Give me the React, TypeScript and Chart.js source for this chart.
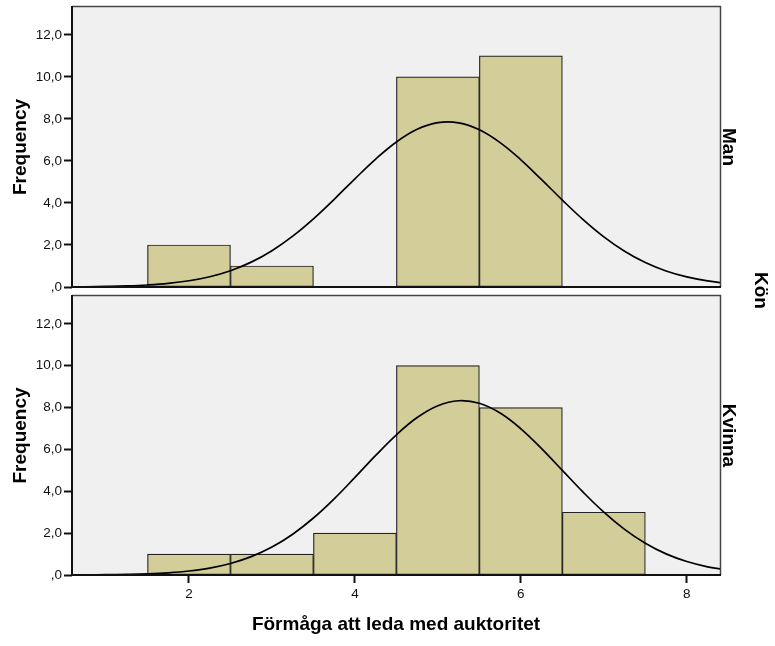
import React, { useEffect, useRef } from 'react';
import { Chart, registerables } from 'chart.js';

Chart.register(...registerables);

// ---- data ----
const BIN_CENTERS = [2, 3, 4, 5, 6, 7];
const MAN_FREQ = [2, 1, 0, 10, 11, 0];
const KVINNA_FREQ = [1, 1, 2, 10, 8, 3];

const CURVE_X = [0.5, 0.75, 1, 1.25, 1.5, 1.75, 2, 2.25, 2.5, 2.75, 3, 3.25, 3.5, 3.75, 4, 4.25, 4.5, 4.75, 5, 5.25, 5.5, 5.75, 6, 6.25, 6.5, 6.75, 7, 7.25, 7.5, 7.75, 8, 8.25, 8.5];
const MAN_CURVE = [0.01, 0.013, 0.026, 0.05, 0.095, 0.171, 0.296, 0.49, 0.777, 1.184, 1.728, 2.419, 3.245, 4.175, 5.15, 6.09, 6.905, 7.506, 7.822, 7.815, 7.487, 6.876, 6.055, 5.111, 4.137, 3.21, 2.389, 1.703, 1.165, 0.764, 0.48, 0.289, 0.167];
const KVINNA_CURVE = [0.003, 0.006, 0.014, 0.028, 0.055, 0.105, 0.191, 0.331, 0.551, 0.877, 1.336, 1.95, 2.724, 3.641, 4.661, 5.712, 6.7, 7.524, 8.089, 8.325, 8.203, 7.737, 6.986, 6.039, 4.998, 3.959, 3.003, 2.181, 1.515, 1.008, 0.642, 0.392, 0.229];

const Y_TICKS = [0, 2, 4, 6, 8, 10, 12];
const Y_TICK_LABELS = [',0', '2,0', '4,0', '6,0', '8,0', '10,0', '12,0'];
const X_TICKS = [2, 4, 6, 8];
const X_TICK_LABELS = ['2', '4', '6', '8'];
const Y_MAX = 13.33;
const X_MIN = 0.59;
const X_MAX = 8.4;

const GROUP_LABELS = ['Man', 'Kvinna'];
const GROUP_TITLE = 'Kön';
const Y_TITLE = 'Frequency';
const X_TITLE = 'Förmåga att leda med auktoritet';

// ---- styles ----
const FAMILY = '"Liberation Sans", Arial, Helvetica, sans-serif';
const BAR_FILL = '#d3ce99';
const BAR_EDGE = '#222222';
const PANEL_BG = '#f0f0f0';

const framePlugin = {
  id: 'panelFrame',
  beforeDraw(chart: any) {
    const { ctx, chartArea: a } = chart;
    ctx.save();
    ctx.fillStyle = PANEL_BG;
    ctx.fillRect(a.left, a.top, a.right - a.left, a.bottom - a.top);
    ctx.restore();
  },
  afterDatasetsDraw(chart: any) {
    const { ctx, chartArea: a } = chart;
    ctx.save();
    ctx.strokeStyle = '#444444';
    ctx.lineWidth = 1.5;
    ctx.beginPath();
    ctx.moveTo(a.left, a.top - 0.5);
    ctx.lineTo(a.right + 1, a.top - 0.5);
    ctx.moveTo(a.right + 0.5, a.top - 1);
    ctx.lineTo(a.right + 0.5, a.bottom);
    ctx.stroke();
    ctx.strokeStyle = '#111111';
    ctx.lineWidth = 2;
    ctx.beginPath();
    ctx.moveTo(a.left, a.top - 1);
    ctx.lineTo(a.left, a.bottom + 1);
    ctx.moveTo(a.left - 1, a.bottom);
    ctx.lineTo(a.right + 1, a.bottom);
    ctx.stroke();
    ctx.restore();
  },
  afterDraw(chart: any, _args: any, opts: any) {
    const { ctx, chartArea: a } = chart;
    const labels = (opts && opts.labels) || [];
    ctx.save();
    ctx.fillStyle = '#000';
    ctx.font = `bold 19px ${FAMILY}`;
    ctx.textAlign = 'center';
    ctx.textBaseline = 'alphabetic';
    for (const l of labels) {
      const x = a.right + l.dx;
      const y = l.where === 'below' ? a.bottom + l.dy : (a.top + a.bottom) / 2;
      ctx.save();
      ctx.translate(x, y);
      ctx.rotate(Math.PI / 2);
      ctx.fillText(l.text, 0, 0);
      ctx.restore();
    }
    ctx.restore();
  },
};

function makeConfig(freq: number[], curve: number[], showX: boolean, labels: any[], padTop: number, padBottom: number) {
  const bars = BIN_CENTERS.map((x, i) => ({ x, y: freq[i] })).filter((p) => p.y > 0);
  const line = CURVE_X.map((x, i) => ({ x, y: curve[i] }));
  const tickFont = { family: FAMILY, size: 13.5 };
  const titleFont = { family: FAMILY, size: 19, weight: 'bold' as const };
  return {
    type: 'bar' as const,
    data: {
      datasets: [
        {
          type: 'line' as const,
          data: line,
          borderColor: '#000',
          borderWidth: 1.7,
          pointRadius: 0,
          tension: 0.4,
          fill: false,
          order: 0,
        },
        {
          type: 'bar' as const,
          data: bars,
          backgroundColor: BAR_FILL,
          borderColor: BAR_EDGE,
          borderWidth: 1.2,
          borderSkipped: false,
          barPercentage: 1,
          categoryPercentage: 1,
          order: 1,
        },
      ],
    },
    options: {
      animation: false as const,
      responsive: false,
      devicePixelRatio: 1,
      events: [],
      layout: { padding: { top: padTop, bottom: padBottom, left: 0, right: 55 } },
      plugins: {
        legend: { display: false },
        tooltip: { enabled: false },
        panelFrame: { labels },
      },
      scales: {
        x: {
          type: 'linear' as const,
          min: X_MIN,
          max: X_MAX,
          offset: false,
          display: showX,
          afterBuildTicks: (s: any) => {
            s.ticks = X_TICKS.map((v) => ({ value: v }));
          },
          afterFit: (s: any) => {
            if (showX) s.height = 71;
            s.paddingLeft = 0;
            s.paddingRight = 0;
          },
          ticks: {
            callback: (_v: any, i: number) => X_TICK_LABELS[i],
            font: tickFont,
            color: '#111',
            padding: 3,
            maxRotation: 0,
            autoSkip: false,
          },
          grid: { offset: false, drawOnChartArea: false, drawTicks: true, tickLength: 8, tickWidth: 2, tickColor: '#111' },
          border: { display: false },
          title: { display: true, text: X_TITLE, font: titleFont, color: '#000', padding: { top: 0, bottom: 10 } },
        },
        y: {
          type: 'linear' as const,
          min: 0,
          max: Y_MAX,
          afterBuildTicks: (s: any) => {
            s.ticks = Y_TICKS.map((v) => ({ value: v }));
          },
          afterFit: (s: any) => {
            s.width = 72;
            s.paddingTop = 0;
            s.paddingBottom = 0;
          },
          ticks: {
            callback: (_v: any, i: number) => Y_TICK_LABELS[i],
            font: tickFont,
            color: '#111',
            padding: 2,
            autoSkip: false,
          },
          grid: { drawOnChartArea: false, drawTicks: true, tickLength: 8, tickWidth: 2, tickColor: '#111' },
          border: { display: false },
          title: { display: true, text: Y_TITLE, font: titleFont, color: '#000', padding: { top: 9.4, bottom: 0 } },
        },
      },
    },
    plugins: [framePlugin],
  };
}

export default function App() {
  const topRef = useRef<HTMLCanvasElement>(null);
  const botRef = useRef<HTMLCanvasElement>(null);

  useEffect(() => {
    const top = new Chart(
      topRef.current as HTMLCanvasElement,
      makeConfig(
        MAN_FREQ,
        MAN_CURVE,
        false,
        [
          { text: GROUP_LABELS[0], dx: 3 },
          { text: GROUP_TITLE, dx: 35, where: 'below', dy: 3.5 },
        ],
        7,
        646 - 287
      ) as any
    );
    const bot = new Chart(
      botRef.current as HTMLCanvasElement,
      makeConfig(KVINNA_FREQ, KVINNA_CURVE, true, [{ text: GROUP_LABELS[1], dx: 3 }], 296, 0) as any
    );
    return () => {
      top.destroy();
      bot.destroy();
    };
  }, []);

  return (
    <div style={{ position: 'absolute', left: 0, top: 0, width: 775, height: 646, background: '#fff' }}>
      <canvas ref={botRef} width={775} height={646} style={{ position: 'absolute', left: 0, top: 0 }} />
      <canvas ref={topRef} width={775} height={646} style={{ position: 'absolute', left: 0, top: 0 }} />
    </div>
  );
}
